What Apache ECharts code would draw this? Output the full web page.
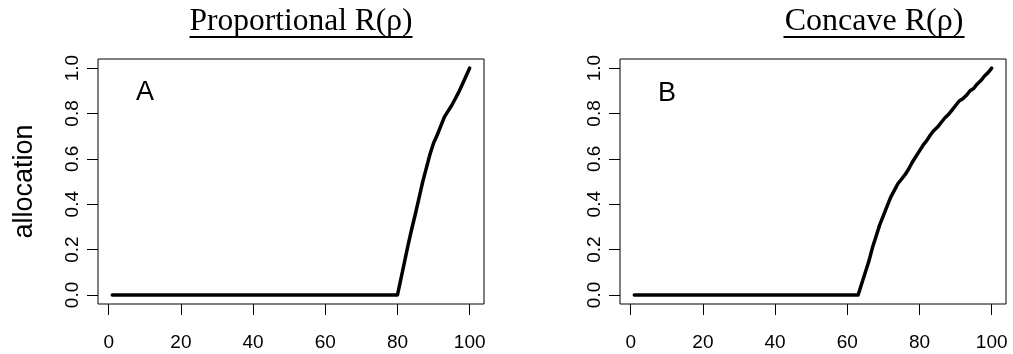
<!DOCTYPE html>
<html>
<head>
<meta charset="utf-8">
<title>Allocation under proportional and concave R(ρ)</title>
<script src="https://cdn.jsdelivr.net/npm/echarts@6/dist/echarts.min.js"></script>
<style>
  html, body { margin: 0; padding: 0; background: #fff; }
  #chart { width: 1013px; height: 354px; }
</style>
</head>
<body>
<div id="chart"></div>
<script>
// Panel A: proportional R(rho) — allocation stays at zero until rho = 80
const rhoA = [1, 80, 81, 82, 83, 84, 85, 86, 87, 88, 89, 90, 91, 92, 93, 94, 95, 96, 97, 98, 99, 100];
const allocA = [0, 0, 0.075, 0.150, 0.225, 0.295, 0.360, 0.430, 0.500, 0.560, 0.620, 0.670, 0.705, 0.745, 0.785, 0.810, 0.835, 0.865, 0.895, 0.930, 0.965, 1.0];

// Panel B: concave R(rho) — allocation starts rising at rho = 63
const rhoB = [1, 63, 64, 65, 66, 67, 68, 69, 70, 71, 72, 73, 74, 75, 76, 77, 78, 79, 80, 81, 82,
              83, 84, 85, 86, 87, 88, 89, 90, 91, 92, 93, 94, 95, 96, 97, 98, 99, 100];
const allocB = [0, 0, 0.050, 0.100, 0.150, 0.210, 0.260, 0.310, 0.350, 0.390, 0.430, 0.460, 0.490, 0.510, 0.530, 0.555, 0.585, 0.610, 0.635, 0.660, 0.680,
                0.705, 0.725, 0.740, 0.760, 0.780, 0.795, 0.815, 0.835, 0.855, 0.865, 0.880, 0.900, 0.910, 0.930, 0.945, 0.965, 0.980, 1.0];

// Tick positions and labels
const xTicks = [0, 20, 40, 60, 80, 100];
const yTicks = [0, 0.2, 0.4, 0.6, 0.8, 1.0];

// Panel headings and tags
const panelTitles = ['Proportional R(ρ)', 'Concave R(ρ)'];
const panelTags = ['A', 'B'];
const yName = 'allocation';

// Axis ranges padded 4% beyond the data extent
const xMin = -2.96, xMax = 103.96;
const yMin = -0.04, yMax = 1.04;

const sans = '"Liberation Sans", Arial, Helvetica, sans-serif';
const serif = '"Liberation Serif", "Times New Roman", serif';

function pairs(xs, ys) {
  return xs.map((x, i) => [x, ys[i]]);
}

function xAxisFor(gridIndex) {
  return {
    type: 'value', gridIndex, min: xMin, max: xMax,
    axisLine: { show: false, onZero: false },
    splitLine: { show: false },
    axisTick: { show: true, customValues: xTicks, length: 11, lineStyle: { color: '#000', width: 1 } },
    axisLabel: {
      customValues: xTicks, margin: 29, color: '#000', fontSize: 19, fontFamily: sans
    }
  };
}

function yAxisFor(gridIndex, withName) {
  const ax = {
    type: 'value', gridIndex, min: yMin, max: yMax,
    axisLine: { show: false, onZero: false },
    splitLine: { show: false },
    axisTick: { show: true, customValues: yTicks, length: 11, lineStyle: { color: '#000', width: 1 } },
    axisLabel: {
      customValues: yTicks, rotate: 90, margin: 16, color: '#000', fontSize: 19, fontFamily: sans,
      formatter: v => Number(v).toFixed(1)
    }
  };
  if (withName) {
    Object.assign(ax, {
      name: yName, nameLocation: 'middle', nameGap: 60, nameRotate: 90, nameMoveOverlap: false,
      nameTextStyle: { color: '#000', fontSize: 27, fontFamily: sans }
    });
  }
  return ax;
}

function lineSeries(idx, data) {
  return {
    type: 'line', xAxisIndex: idx, yAxisIndex: idx, data,
    showSymbol: false, symbol: 'none', smooth: false, animation: false,
    lineStyle: { color: '#000', width: 3.5, cap: 'round', join: 'round' }
  };
}

function heading(text, cx, textWidth, size) {
  return {
    type: 'group',
    children: [
      { type: 'text', style: { text, x: cx, y: 22, fill: '#000', font: size + 'px ' + serif,
        textAlign: 'center', textVerticalAlign: 'middle', verticalAlign: 'middle' } },
      { type: 'rect', shape: { x: cx - textWidth / 2, y: 36, width: textWidth, height: 2 },
        style: { fill: '#000' } }
    ]
  };
}

function tag(text, cx, cy) {
  return {
    type: 'text',
    style: { text, x: cx, y: cy, fill: '#000', font: '27px ' + sans,
      textAlign: 'center', textVerticalAlign: 'middle', verticalAlign: 'middle' }
  };
}

const chart = echarts.init(document.getElementById('chart'), null, { renderer: 'canvas' });
chart.setOption({
  backgroundColor: '#fff',
  animation: false,
  grid: [
    { left: 98, right: 529, top: 59, bottom: 50, show: true, borderColor: '#000', borderWidth: 1, backgroundColor: 'transparent' },
    { left: 620, right: 7, top: 59, bottom: 50, show: true, borderColor: '#000', borderWidth: 1, backgroundColor: 'transparent' }
  ],
  xAxis: [xAxisFor(0), xAxisFor(1)],
  yAxis: [yAxisFor(0, true), yAxisFor(1, false)],
  series: [
    lineSeries(0, pairs(rhoA, allocA)),
    lineSeries(1, pairs(rhoB, allocB))
  ],
  graphic: [
    heading(panelTitles[0], 301, 223, 31.5),
    heading(panelTitles[1], 874, 181, 32),
    tag(panelTags[0], 145, 93),
    tag(panelTags[1], 667, 94)
  ]
});
</script>
</body>
</html>
